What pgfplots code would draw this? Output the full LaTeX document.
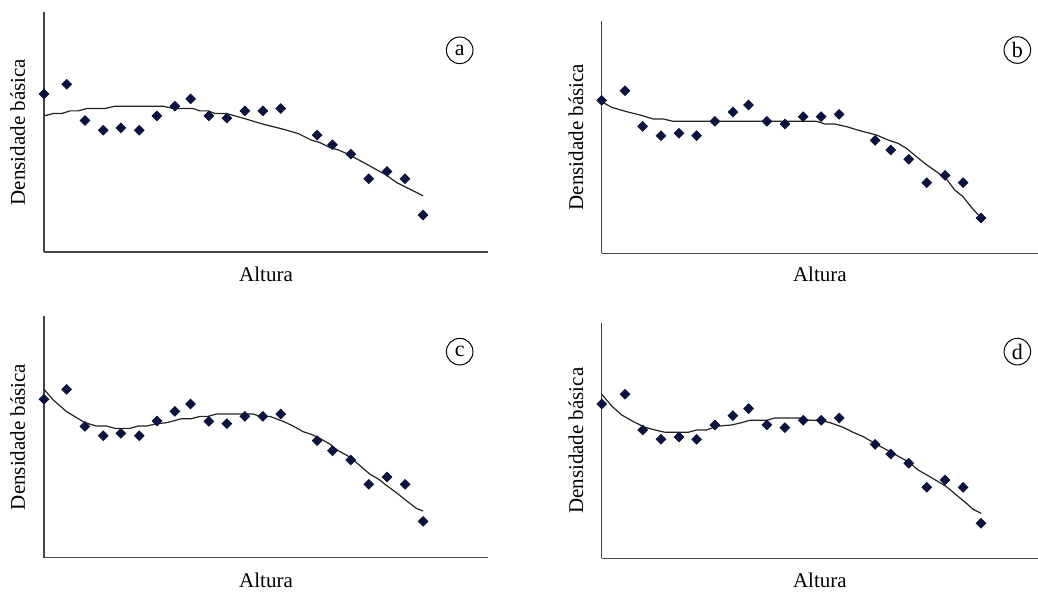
\documentclass[border=0pt]{standalone}
\usepackage{fontspec}
\setmainfont{Liberation Serif}
\usepackage{pgfplots}
\pgfplotsset{compat=1.18}
\definecolor{navy}{RGB}{12,18,62}
\definecolor{axisgray}{RGB}{70,70,70}
\definecolor{curve}{RGB}{35,35,35}
\pgfplotsset{
  panel/.style={
    scale only axis,
    axis x line*=bottom, axis y line*=left,
    axis line style={-, axisgray, line width=0.6pt},
    xtick=\empty, ytick=\empty,
    xmin=0, ymin=0,
    clip=false,
    xlabel={Altura}, ylabel={Densidade básica},
    every axis label/.append style={font=\fontsize{10.5}{12}\selectfont},
    xlabel style={at={(axis description cs:0.5,-0.092)}, anchor=center},
    ylabel style={at={(axis description cs:-0.059,0.5)}, anchor=center},
  },
  pts/.style={only marks, mark=square*, mark size=1.7pt, mark options={rotate=45, navy, fill=navy}},
  fit/.style={no marks, curve, line width=0.6pt},
}
\newcommand{\tag}[1]{\node[draw, circle, line width=0.5pt, minimum size=13.3pt, inner sep=0pt, font=\fontsize{11}{12}\selectfont] at (axis cs:1248,#1)}
\begin{document}
\begin{tikzpicture}
\useasboundingbox (0,0) rectangle (519pt,295.5pt);
% (a)
\begin{axis}[panel, at={(22pt,169.5pt)}, anchor=origin, width=222pt, height=120pt, xmax=1333, ymax=721]
\addplot[fit] coordinates {(0,409) (28,416) (53,416) (78,424) (103,424) (128,431) (183,431) (213,438) (358,438) (388,431) (448,431) (468,424) (493,424) (513,416) (548,416) (598,402) (658,384) (718,369) (763,356) (803,336) (828,329) (858,314) (883,307) (913,294) (968,264) (1028,231) (1058,209) (1138,169)};
\addplot[pts] coordinates {(0,475) (68,504) (123,395) (178,366) (231,373) (286,366) (339,409) (393,438) (440,460) (495,409) (549,402) (603,424) (657,424) (711,431) (820,351) (866,322) (921,294) (975,220) (1030,242) (1084,220) (1138,111)};
\tag{606}{a};
\end{axis}
% (b)
\begin{axis}[panel, at={(300.85pt,168.85pt)}, anchor=origin, width=218.15pt, height=116.3pt, xmax=1310, ymax=698]
\addplot[fit] coordinates {(0,455) (30,438) (75,425) (115,415) (155,403) (185,403) (215,396) (645,396) (670,388) (700,388) (735,380) (775,368) (825,355) (860,340) (890,330) (915,315) (945,290) (975,266) (1005,245) (1035,223) (1060,190) (1085,170) (1110,138) (1139,106)};
\addplot[pts] coordinates {(0,459) (70,488) (123,381) (178,353) (232,360) (285,353) (340,396) (394,424) (441,445) (496,396) (550,388) (605,410) (659,410) (713,417) (821,339) (868,310) (922,282) (976,212) (1031,234) (1085,212) (1139,106)};
\tag{610}{b};
\end{axis}
% (c)
\begin{axis}[panel, at={(22pt,16.65pt)}, anchor=origin, width=222pt, height=120.85pt, xmax=1333, ymax=725]
\addplot[fit] coordinates {(0,505) (28,473) (68,438) (123,405) (158,395) (188,395) (213,388) (258,388) (283,395) (308,395) (338,402) (368,405) (413,417) (443,417) (468,424) (493,424) (518,431) (628,431) (648,424) (678,424) (718,409) (748,395) (778,378) (803,370) (828,358) (858,341) (883,321) (913,305) (943,281) (978,251) (1008,233) (1028,217) (1058,195) (1088,171) (1118,148) (1138,140)};
\addplot[pts] coordinates {(0,475) (68,505) (123,394) (178,366) (231,373) (286,366) (339,410) (393,439) (440,461) (495,409) (549,402) (603,424) (657,424) (711,431) (820,351) (866,321) (921,293) (975,220) (1030,242) (1084,220) (1138,109)};
\tag{618}{c};
\end{axis}
% (d)
\begin{axis}[panel, at={(300.85pt,16.35pt)}, anchor=origin, width=218.15pt, height=117.5pt, xmax=1310, ymax=705]
\addplot[fit] coordinates {(0,492) (30,457) (60,430) (95,410) (130,393) (160,385) (190,378) (260,378) (285,385) (315,385) (345,396) (390,400) (420,407) (445,414) (495,414) (520,421) (595,421) (625,414) (655,414) (685,407) (725,393) (755,378) (785,365) (820,345) (865,320) (920,290) (950,265) (985,245) (1035,215) (1065,190) (1095,165) (1115,147) (1139,135)};
\addplot[pts] coordinates {(0,463) (70,492) (123,385) (178,357) (232,364) (285,357) (340,400) (394,428) (441,449) (496,400) (550,392) (605,414) (659,414) (713,421) (821,342) (868,313) (922,285) (976,213) (1031,235) (1085,213) (1139,105)};
\tag{620}{d};
\end{axis}
\end{tikzpicture}
\end{document}
